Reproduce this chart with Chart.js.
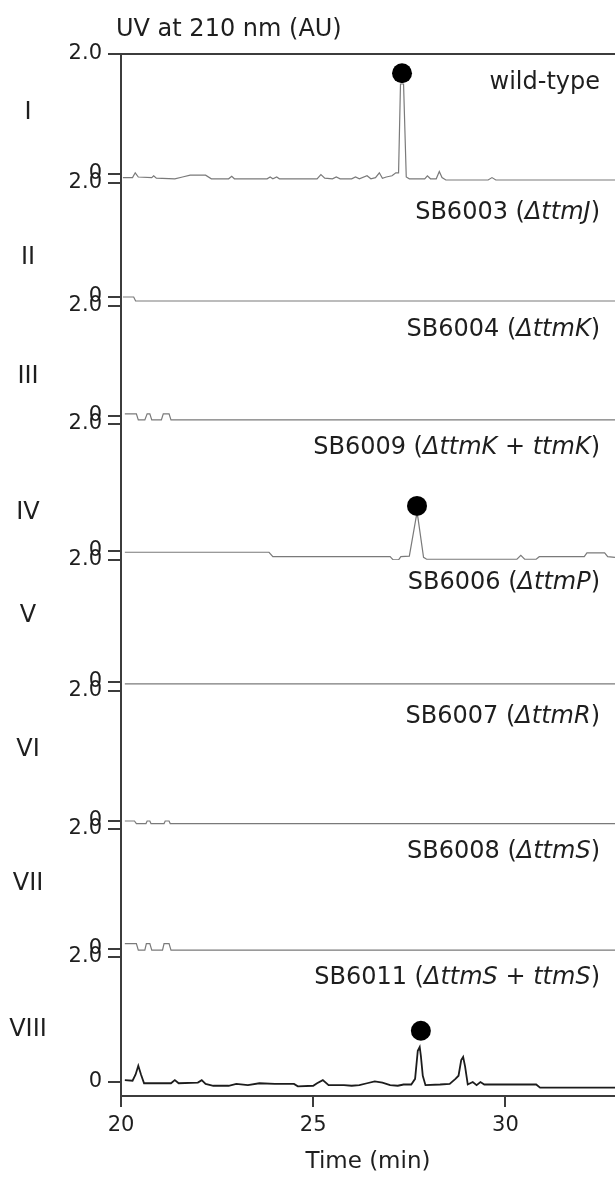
<!DOCTYPE html>
<html>
<head>
<meta charset="utf-8">
<script src="https://cdn.jsdelivr.net/npm/chart.js@4"></script>
<style>
  html, body { margin: 0; padding: 0; background: #fff; overflow: hidden; }
  #wrap { position: relative; width: 615px; height: 1179px; }
  #chromChart { display: block; }
</style>
</head>
<body>
<div id="wrap"><canvas id="chromChart"></canvas></div>
<script>
// panel names and strain labels (text between * is italic)
const panelNames = ['I', 'II', 'III', 'IV', 'V', 'VI', 'VII', 'VIII'];
const strainLabels = [
  'wild-type',
  'SB6003 (*ΔttmJ*)',
  'SB6004 (*ΔttmK*)',
  'SB6009 (*ΔttmK* + *ttmK*)',
  'SB6006 (*ΔttmP*)',
  'SB6007 (*ΔttmR*)',
  'SB6008 (*ΔttmS*)',
  'SB6011 (*ΔttmS* + *ttmS*)'
];

const timeTicks = [20, 25, 30];
const auTicks = [0, 2];

// traces: [time (min), UV 210 nm (AU)]
const traceI = [
  [20.05, -0.06], [20.3, -0.06], [20.37, 0.02], [20.45, -0.05], [20.8, -0.06], [20.85, -0.03],
  [20.92, -0.07], [21.4, -0.08], [21.6, -0.05], [21.8, -0.02], [22.2, -0.02], [22.35, -0.08],
  [22.8, -0.08], [22.88, -0.04], [22.95, -0.08], [23.8, -0.08], [23.88, -0.05], [23.95, -0.08],
  [24.05, -0.05], [24.12, -0.08], [25.1, -0.08], [25.2, -0.01], [25.3, -0.07], [25.5, -0.08],
  [25.6, -0.05], [25.7, -0.08], [26.0, -0.08], [26.1, -0.05], [26.2, -0.08], [26.4, -0.03],
  [26.5, -0.08], [26.62, -0.06], [26.72, 0.02], [26.8, -0.07], [26.9, -0.05], [27.05, -0.03],
  [27.15, 0.02], [27.22, 0.02], [27.27, 1.5], [27.35, 1.5], [27.42, -0.05], [27.5, -0.08],
  [27.9, -0.08], [27.97, -0.03], [28.05, -0.08], [28.2, -0.08], [28.28, 0.04], [28.35, -0.06],
  [28.45, -0.1], [29.55, -0.1], [29.65, -0.06], [29.75, -0.1], [32.85, -0.1]
];
const traceII = [[20.05, 0.0], [20.33, 0.0], [20.38, -0.07], [32.85, -0.07]];
const traceIII = [
  [20.1, 0.04], [20.4, 0.04], [20.45, -0.07], [20.62, -0.07], [20.68, 0.04], [20.75, 0.04],
  [20.8, -0.07], [21.05, -0.07], [21.1, 0.04], [21.25, 0.04], [21.3, -0.07], [32.85, -0.07]
];
const traceIV = [
  [20.1, -0.02], [23.85, -0.02], [23.95, -0.09], [27.0, -0.09], [27.08, -0.14], [27.22, -0.14],
  [27.28, -0.09], [27.5, -0.08], [27.68, 0.54], [27.72, 0.54], [27.87, -0.1], [27.95, -0.13],
  [30.3, -0.13], [30.4, -0.07], [30.5, -0.13], [30.8, -0.13], [30.88, -0.09], [32.05, -0.09],
  [32.12, -0.03], [32.58, -0.03], [32.66, -0.09], [32.85, -0.1]
];
const traceV = [[20.1, -0.03], [32.85, -0.03]];
const traceVI = [
  [20.1, 0.0], [20.35, 0.0], [20.4, -0.04], [20.65, -0.04], [20.68, 0.0], [20.75, 0.0],
  [20.78, -0.04], [21.12, -0.04], [21.15, 0.0], [21.25, 0.0], [21.28, -0.04], [32.85, -0.04]
];
const traceVII = [
  [20.1, 0.09], [20.4, 0.09], [20.45, -0.02], [20.62, -0.02], [20.66, 0.09], [20.75, 0.09],
  [20.8, -0.02], [21.08, -0.02], [21.12, 0.09], [21.25, 0.09], [21.3, -0.02], [32.85, -0.02]
];
const traceVIII = [
  [20.1, 0.03], [20.3, 0.02], [20.38, 0.12], [20.45, 0.26], [20.52, 0.12], [20.6, -0.02],
  [21.3, -0.02], [21.4, 0.03], [21.5, -0.02], [22.0, -0.01], [22.1, 0.03], [22.2, -0.03],
  [22.4, -0.06], [22.8, -0.06], [23.0, -0.03], [23.3, -0.05], [23.6, -0.02], [24.0, -0.03],
  [24.5, -0.03], [24.6, -0.07], [25.0, -0.06], [25.1, -0.02], [25.25, 0.03], [25.4, -0.05],
  [25.8, -0.05], [26.0, -0.06], [26.2, -0.05], [26.4, -0.02], [26.6, 0.01], [26.8, -0.01],
  [27.0, -0.05], [27.2, -0.06], [27.35, -0.04], [27.55, -0.04], [27.65, 0.05], [27.72, 0.5],
  [27.77, 0.56], [27.8, 0.42], [27.85, 0.1], [27.92, -0.05], [28.3, -0.04], [28.55, -0.03],
  [28.7, 0.05], [28.78, 0.1], [28.85, 0.35], [28.9, 0.4], [28.95, 0.25], [29.02, -0.04],
  [29.15, 0.0], [29.25, -0.05], [29.35, 0.0], [29.45, -0.04], [30.8, -0.04], [30.9, -0.09],
  [32.85, -0.09]
];
const traces = [traceI, traceII, traceIII, traceIV, traceV, traceVI, traceVII, traceVIII];

// filled-circle peak markers: [panel index, time, AU]
const peakMarks = [[0, 27.31, 1.68], [3, 27.7, 0.71], [7, 27.8, 0.82]];

// layout of the stacked panels
const panelHeights = [129, 123, 118, 136, 131, 138, 128, 139];
const panelMins = [-0.15, -0.158, -0.145, -0.142, -0.148, -0.123, -0.133, -0.224];
const numeralAt = [1.02, 0.68, 0.71, 0.6, 1.08, 1.09, 1.08, 0.83];
const strainAt = [1.52, 1.47, 1.56, 1.62, 1.62, 1.6, 1.62, 1.66];

const FONT = 'DejaVu Sans';
const textColor = '#1e1e1e';
const axisColor = '#3c3c3c';

Chart.defaults.font.family = FONT;
Chart.defaults.color = textColor;

const scales = {
  x: {
    type: 'linear',
    position: 'bottom',
    min: 20,
    max: 32.85,
    afterBuildTicks: s => { s.ticks = timeTicks.map(v => ({ value: v })); },
    ticks: { font: { size: 21 }, color: textColor, padding: 6, callback: v => String(v) },
    grid: { drawOnChartArea: false, tickLength: 11, lineWidth: 2, color: axisColor },
    border: { color: axisColor, width: 2 },
    title: { display: true, text: 'Time (min)', font: { size: 23 }, color: textColor, padding: { top: 0, bottom: 3 } },
    afterFit: s => { s.height = 83; }
  },
  xTop: {
    type: 'linear',
    position: 'top',
    min: 20,
    max: 32.85,
    ticks: { display: false },
    grid: { display: true, drawOnChartArea: false, drawTicks: false },
    border: { color: axisColor, width: 2 },
    afterFit: s => { s.height = 0; }
  }
};

panelNames.forEach((name, i) => {
  scales['y' + i] = {
    type: 'linear',
    position: 'left',
    stack: 'panels',
    stackWeight: panelHeights[i],
    weight: panelNames.length - i,
    min: panelMins[i],
    max: 2,
    afterBuildTicks: s => { s.ticks = auTicks.map(v => ({ value: v })); },
    ticks: { font: { size: 21 }, color: textColor, padding: 6, callback: v => (v === 0 ? '0' : v.toFixed(1)) },
    grid: { drawOnChartArea: false, tickLength: 13, lineWidth: 2, color: axisColor },
    border: { color: axisColor, width: 2 },
    afterFit: s => { s.width = 121; }
  };
});

const datasets = traces.map((trace, i) => ({
  type: 'line',
  data: trace.map(([t, v]) => ({ x: t, y: v })),
  xAxisID: 'x',
  yAxisID: 'y' + i,
  borderColor: i === 7 ? '#1c1c1c' : '#7a7a7a',
  borderWidth: i === 7 ? 1.8 : 1.2,
  pointRadius: 0,
  tension: 0,
  fill: false
}));

peakMarks.forEach(([i, t, v]) => {
  datasets.push({
    type: 'scatter',
    data: [{ x: t, y: v }],
    xAxisID: 'x',
    yAxisID: 'y' + i,
    pointRadius: 10,
    pointBackgroundColor: '#000',
    pointBorderWidth: 0
  });
});

// draw a label whose *starred* parts are italic, right-aligned at x
function drawMixed(ctx, label, right, y, size) {
  const parts = label.split('*');
  let total = 0;
  parts.forEach((p, k) => {
    ctx.font = (k % 2 ? 'italic ' : '') + size + 'px "' + FONT + '"';
    total += ctx.measureText(p).width;
  });
  let x = right - total;
  parts.forEach((p, k) => {
    ctx.font = (k % 2 ? 'italic ' : '') + size + 'px "' + FONT + '"';
    ctx.fillText(p, x, y);
    x += ctx.measureText(p).width;
  });
}

const panelText = {
  id: 'panelText',
  afterDraw(chart) {
    const ctx = chart.ctx;
    const area = chart.chartArea;
    ctx.save();
    ctx.fillStyle = textColor;
    ctx.textBaseline = 'middle';

    ctx.textAlign = 'left';
    ctx.font = '24px "' + FONT + '"';
    ctx.fillText('UV at 210 nm (AU)', area.left - 5, 30);

    panelNames.forEach((name, i) => {
      const sc = chart.scales['y' + i];
      ctx.textAlign = 'center';
      ctx.font = '24px "' + FONT + '"';
      ctx.fillText(name, 28, sc.getPixelForValue(numeralAt[i]));
      ctx.textAlign = 'left';
      drawMixed(ctx, strainLabels[i], area.right - 15, sc.getPixelForValue(strainAt[i]), 24);
    });
    ctx.restore();
  }
};

new Chart(document.getElementById('chromChart'), {
  type: 'line',
  data: { datasets },
  options: {
    responsive: true,
    maintainAspectRatio: false,
    animation: false,
    layout: { autoPadding: false, padding: { top: 54, left: 0, right: 0, bottom: 0 } },
    plugins: { legend: { display: false }, tooltip: { enabled: false }, title: { display: false } },
    scales
  },
  plugins: [panelText]
});
</script>
</body>
</html>
